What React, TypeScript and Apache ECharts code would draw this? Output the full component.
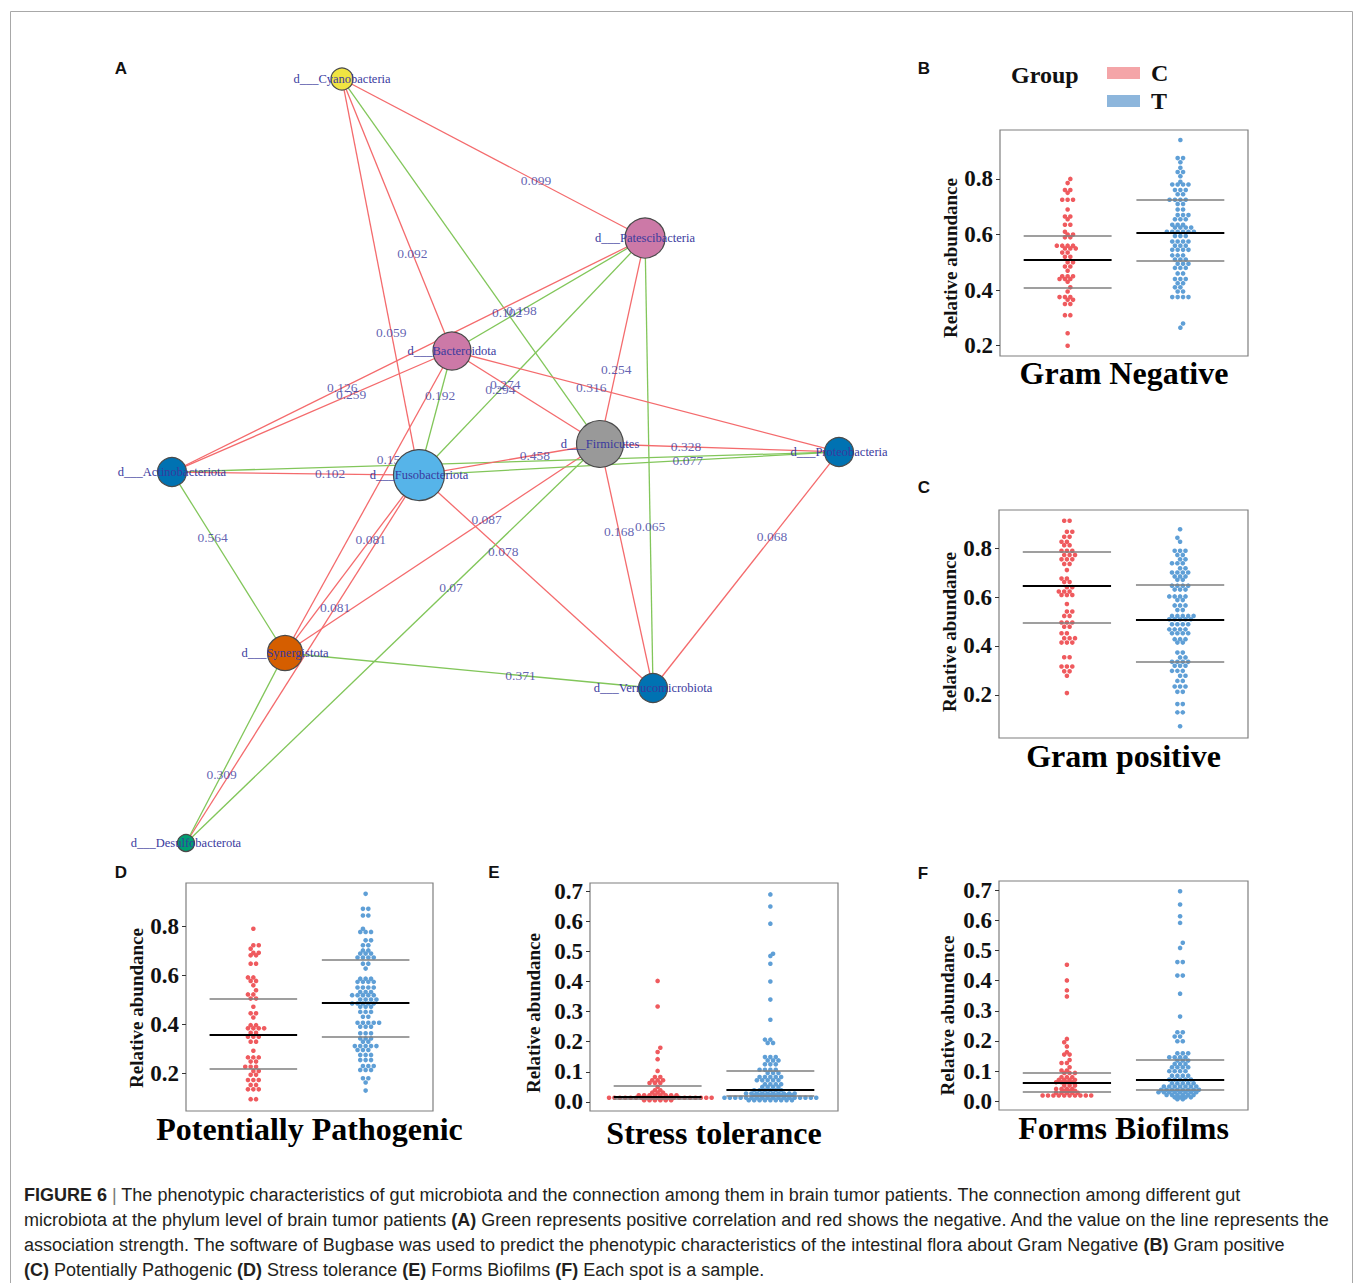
import React, { useEffect, useRef } from "react";
import * as echarts from "echarts";

// ---------------- Panel A : co-occurrence network (layout units 0-100) ----------------
const nodeNames = [
  "Cyanobacteria", "Patescibacteria", "Bacteroidota", "Actinobacteriota", "Fusobacteriota",
  "Firmicutes", "Proteobacteria", "Synergistota", "Verrucomicrobiota", "Desulfobacterota",
];
const nodeLayoutX = [26.0, 69.29, 41.71, 1.71, 37.0, 62.86, 97.0, 17.86, 70.43, 3.71];
const nodeLayoutY = [1.14, 21.27, 35.57, 50.89, 51.27, 47.34, 48.35, 73.8, 78.23, 97.85];
const nodeAbundance = [22, 40, 38, 29, 51, 47, 29, 35, 29, 17];

const edgeFrom = [
  "Cyanobacteria", "Cyanobacteria", "Cyanobacteria", "Cyanobacteria", "Patescibacteria",
  "Patescibacteria", "Actinobacteriota", "Patescibacteria", "Firmicutes", "Patescibacteria",
  "Patescibacteria", "Verrucomicrobiota", "Proteobacteria", "Fusobacteriota", "Synergistota",
  "Synergistota", "Desulfobacterota", "Synergistota", "Verrucomicrobiota", "Desulfobacterota",
  "Synergistota", "Synergistota", "Synergistota", "Actinobacteriota", "Fusobacteriota",
  "Actinobacteriota", "Fusobacteriota", "Proteobacteria", "Verrucomicrobiota",
];
const edgeTo = [
  "Patescibacteria", "Bacteroidota", "Fusobacteriota", "Firmicutes", "Bacteroidota",
  "Actinobacteriota", "Bacteroidota", "Fusobacteriota", "Bacteroidota", "Firmicutes",
  "Verrucomicrobiota", "Firmicutes", "Bacteroidota", "Bacteroidota", "Bacteroidota",
  "Fusobacteriota", "Fusobacteriota", "Firmicutes", "Fusobacteriota", "Firmicutes",
  "Actinobacteriota", "Verrucomicrobiota", "Desulfobacterota", "Proteobacteria", "Proteobacteria",
  "Fusobacteriota", "Firmicutes", "Firmicutes", "Proteobacteria",
];
const edgeWeight = [
  0.099, 0.092, 0.059, 0.102, 0.198, 0.126, 0.259, 0.294, 0.274, 0.254,
  0.065, 0.168, 0.316, 0.192, 0.153, 0.081, 0.081, 0.087, 0.078, 0.07,
  0.564, 0.371, 0.309, 0.148, 0.077, 0.102, 0.458, 0.328, 0.068,
];
const edgeSign = [
  -1, -1, -1, 1, 1, -1, -1, 1, -1, -1,
  1, -1, -1, 1, -1, -1, -1, -1, -1, 1,
  1, 1, 1, 1, 1, -1, -1, -1, -1,
];

// ---------------- Panels B-F : relative abundance per sample ----------------
const groups = ["C", "T"];
const ticksHigh = [0.2, 0.4, 0.6, 0.8];
const ticksLow = [0.0, 0.1, 0.2, 0.3, 0.4, 0.5, 0.6, 0.7];

const gramNegC = [
  0.80, 0.785, 0.76, 0.76, 0.75, 0.725, 0.725, 0.725, 0.69, 0.665, 0.665, 0.655, 0.635, 0.635,
  0.61, 0.60, 0.60, 0.59, 0.59, 0.56, 0.56, 0.56, 0.56, 0.55, 0.55, 0.55, 0.535, 0.535,
  0.52, 0.52, 0.50, 0.50, 0.485, 0.485, 0.47, 0.45, 0.45, 0.45, 0.44, 0.44, 0.44, 0.43,
  0.41, 0.395, 0.375, 0.375, 0.375, 0.365, 0.365, 0.35, 0.35, 0.31, 0.31, 0.245, 0.20,
];
const gramNegT = [
  0.94, 0.875, 0.875, 0.86, 0.84, 0.825, 0.825, 0.81, 0.79, 0.78, 0.78, 0.78, 0.78,
  0.76, 0.76, 0.76, 0.745, 0.745, 0.725, 0.725, 0.725, 0.725, 0.71, 0.71, 0.69, 0.69,
  0.67, 0.67, 0.67, 0.655, 0.655, 0.655, 0.635, 0.635, 0.635, 0.625, 0.625, 0.625, 0.625,
  0.61, 0.61, 0.61, 0.61, 0.61, 0.61, 0.595, 0.595, 0.595, 0.575, 0.575, 0.575, 0.575,
  0.56, 0.56, 0.56, 0.545, 0.545, 0.545, 0.545, 0.525, 0.525, 0.525, 0.51, 0.51, 0.51,
  0.495, 0.495, 0.495, 0.48, 0.48, 0.48, 0.46, 0.46, 0.44, 0.44, 0.44, 0.425, 0.425,
  0.41, 0.41, 0.395, 0.395, 0.375, 0.375, 0.375, 0.375, 0.28, 0.265,
];
const gramNegQuartC = [0.407, 0.509, 0.595];
const gramNegQuartT = [0.506, 0.607, 0.725];

const gramPosC = [
  0.913, 0.913, 0.868, 0.868, 0.847, 0.847, 0.827, 0.827, 0.813, 0.813, 0.79, 0.79, 0.79,
  0.773, 0.773, 0.773, 0.755, 0.755, 0.755, 0.736, 0.736, 0.711, 0.676, 0.676, 0.662, 0.662,
  0.641, 0.641, 0.623, 0.623, 0.623, 0.609, 0.609, 0.609, 0.572, 0.541, 0.541, 0.523, 0.523,
  0.496, 0.496, 0.496, 0.479, 0.479, 0.452, 0.452, 0.432, 0.432, 0.432, 0.414, 0.414, 0.414,
  0.354, 0.354, 0.316, 0.316, 0.316, 0.296, 0.296, 0.278, 0.207,
];
const gramPosT = [
  0.878, 0.843, 0.827, 0.79, 0.79, 0.79, 0.773, 0.773, 0.755, 0.755, 0.739, 0.739, 0.739,
  0.718, 0.718, 0.701, 0.701, 0.701, 0.701, 0.685, 0.685, 0.685, 0.671, 0.671,
  0.647, 0.647, 0.647, 0.647, 0.631, 0.631, 0.631, 0.603, 0.603, 0.603, 0.603, 0.588, 0.588,
  0.566, 0.566, 0.566, 0.547, 0.547, 0.523, 0.523, 0.523, 0.523, 0.523,
  0.509, 0.509, 0.509, 0.509, 0.509, 0.489, 0.489, 0.489, 0.489, 0.468, 0.468, 0.468, 0.468,
  0.452, 0.452, 0.452, 0.452, 0.428, 0.428, 0.428, 0.414, 0.414, 0.373, 0.373, 0.353, 0.353,
  0.335, 0.335, 0.335, 0.335, 0.319, 0.319, 0.319, 0.298, 0.298, 0.298, 0.278, 0.278,
  0.257, 0.257, 0.234, 0.234, 0.234, 0.212, 0.212, 0.162, 0.162, 0.128, 0.128, 0.071,
];
const gramPosQuartC = [0.496, 0.646, 0.786];
const gramPosQuartT = [0.336, 0.509, 0.65];

const pathoC = [
  0.789, 0.722, 0.722, 0.708, 0.691, 0.691, 0.681, 0.681, 0.647, 0.647, 0.591, 0.591,
  0.577, 0.577, 0.559, 0.539, 0.522, 0.522, 0.505, 0.505, 0.472, 0.445, 0.445, 0.428,
  0.397, 0.397, 0.384, 0.384, 0.384, 0.384, 0.366, 0.366, 0.35, 0.35, 0.35, 0.33, 0.33,
  0.293, 0.266, 0.266, 0.266, 0.249, 0.249, 0.228, 0.228, 0.228, 0.211, 0.211, 0.195, 0.195,
  0.174, 0.174, 0.174, 0.154, 0.154, 0.136, 0.136, 0.136, 0.096, 0.096,
];
const pathoT = [
  0.931, 0.87, 0.87, 0.843, 0.843, 0.789, 0.776, 0.776, 0.776, 0.742, 0.742, 0.722, 0.722,
  0.701, 0.701, 0.688, 0.688, 0.688, 0.672, 0.672, 0.672, 0.672, 0.647, 0.647, 0.627,
  0.586, 0.586, 0.586, 0.573, 0.573, 0.573, 0.573, 0.55, 0.55, 0.55, 0.55, 0.532, 0.532, 0.532,
  0.519, 0.519, 0.519, 0.519, 0.519, 0.501, 0.501, 0.501, 0.501, 0.485, 0.485, 0.485, 0.485, 0.485,
  0.472, 0.472, 0.472, 0.451, 0.451, 0.451, 0.431, 0.431, 0.407, 0.407, 0.407, 0.407, 0.407,
  0.391, 0.391, 0.391, 0.364, 0.364, 0.364, 0.343, 0.343, 0.343, 0.33, 0.33,
  0.312, 0.312, 0.312, 0.312, 0.312, 0.296, 0.296, 0.296, 0.276, 0.276, 0.276,
  0.255, 0.255, 0.255, 0.231, 0.231, 0.231, 0.215, 0.215, 0.215, 0.181, 0.181, 0.164, 0.131,
];
const pathoQuartC = [0.218, 0.357, 0.505];
const pathoQuartT = [0.35, 0.489, 0.663];

const stressC = [
  0.402, 0.317, 0.18, 0.166, 0.142, 0.103, 0.083, 0.083, 0.072, 0.072, 0.072,
  0.063, 0.063, 0.063, 0.05, 0.039, 0.039, 0.031, 0.031, 0.031,
  0.022, 0.022, 0.022, 0.022, 0.022, 0.022, 0.022, 0.022,
  0.014, 0.014, 0.014, 0.014, 0.014, 0.014, 0.014, 0.014, 0.014, 0.014,
  0.014, 0.014, 0.014, 0.014, 0.014, 0.014, 0.014, 0.014, 0.014, 0.014,
  0.006, 0.006, 0.006, 0.006, 0.006, 0.006,
];
const stressT = [
  0.689, 0.649, 0.592, 0.492, 0.485, 0.459, 0.40, 0.34, 0.273,
  0.207, 0.207, 0.196, 0.196, 0.149, 0.149, 0.149, 0.138, 0.138, 0.138, 0.125, 0.125, 0.125,
  0.107, 0.107, 0.107, 0.107, 0.096, 0.096, 0.096, 0.083, 0.083, 0.083, 0.083, 0.083,
  0.072, 0.072, 0.072, 0.072, 0.072, 0.059, 0.059, 0.059, 0.059, 0.05, 0.05, 0.05, 0.05,
  0.039, 0.039, 0.039, 0.039, 0.039, 0.039,
  0.028, 0.028, 0.028, 0.028, 0.028, 0.028, 0.028, 0.028, 0.028, 0.028,
  0.022, 0.022, 0.022, 0.022, 0.022, 0.022, 0.022, 0.022,
  0.014, 0.014, 0.014, 0.014, 0.014, 0.014, 0.014, 0.014, 0.014,
  0.014, 0.014, 0.014, 0.014, 0.014, 0.014, 0.014, 0.014, 0.014,
  0.006, 0.006, 0.006, 0.006, 0.006, 0.006, 0.006, 0.006, 0.006,
];
const stressQuartC = [0.011, 0.017, 0.053];
const stressQuartT = [0.019, 0.042, 0.105];

const biofilmC = [
  0.453, 0.401, 0.368, 0.348, 0.207, 0.196, 0.182, 0.163, 0.155, 0.155, 0.137,
  0.127, 0.127, 0.113, 0.102, 0.102, 0.094, 0.094, 0.094, 0.08, 0.08, 0.08,
  0.071, 0.071, 0.071, 0.071, 0.063, 0.063, 0.063, 0.063, 0.052, 0.052, 0.052,
  0.041, 0.041, 0.041, 0.041, 0.035, 0.035, 0.035, 0.028, 0.028, 0.028, 0.028, 0.028,
  0.019, 0.019, 0.019, 0.019, 0.019, 0.019, 0.019, 0.019, 0.019, 0.019,
];
const biofilmT = [
  0.697, 0.653, 0.614, 0.592, 0.526, 0.509, 0.462, 0.462, 0.417, 0.417, 0.357, 0.281,
  0.229, 0.229, 0.215, 0.215, 0.199, 0.199, 0.159, 0.159, 0.159, 0.146, 0.146, 0.146, 0.146,
  0.135, 0.135, 0.135, 0.124, 0.124, 0.124, 0.113, 0.113, 0.113, 0.113, 0.10, 0.10, 0.10, 0.10,
  0.085, 0.085, 0.085, 0.085, 0.072, 0.072, 0.072, 0.072, 0.072, 0.06, 0.06, 0.06, 0.06, 0.06,
  0.049, 0.049, 0.049, 0.049, 0.049, 0.049, 0.049, 0.038, 0.038, 0.038, 0.038, 0.038, 0.038, 0.038, 0.038,
  0.03, 0.03, 0.03, 0.03, 0.03, 0.03, 0.03, 0.03, 0.021, 0.021, 0.021, 0.021, 0.021, 0.021,
  0.013, 0.013, 0.013, 0.013, 0.007, 0.007,
];
const biofilmQuartC = [0.033, 0.063, 0.095];
const biofilmQuartT = [0.038, 0.072, 0.137];

// ---------------- styles ----------------
const nodeFill = ["#f0e442", "#cc79a7", "#cc79a7", "#0072b2", "#56b4e9", "#999999", "#0072b2", "#d55e00", "#0072b2", "#009e73"];
const POS = "#82c65a";
const NEG = "#f46b6d";
const NETTXT = "#3a3a9e";
const RED = "#ef5a5e";
const BLUE = "#5f9fd6";
const SERIF = "'Liberation Serif', 'Times New Roman', serif";
const SANS = "'Liberation Sans', Arial, sans-serif";
const LABEL_FRACTION = 0.64;

const panels = [
  { grid: { left: 1000, top: 130, width: 248, height: 226 }, min: 0.163, max: 0.976, ticks: ticksHigh, title: "Gram Negative", c: gramNegC, t: gramNegT, qc: gramNegQuartC, qt: gramNegQuartT, nameGap: 38, nameShift: 15, titleGap: 1 },
  { grid: { left: 999, top: 510, width: 249, height: 228 }, min: 0.023, max: 0.957, ticks: ticksHigh, title: "Gram positive", c: gramPosC, t: gramPosT, qc: gramPosQuartC, qt: gramPosQuartT, nameGap: 38, nameShift: 8, titleGap: 2 },
  { grid: { left: 186, top: 883, width: 247, height: 228 }, min: 0.048, max: 0.975, ticks: ticksHigh, title: "Potentially Pathogenic", c: pathoC, t: pathoT, qc: pathoQuartC, qt: pathoQuartT, nameGap: 38, nameShift: 11, titleGap: 2 },
  { grid: { left: 590, top: 883, width: 248, height: 228 }, min: -0.03, max: 0.727, ticks: ticksLow, title: "Stress tolerance", c: stressC, t: stressT, qc: stressQuartC, qt: stressQuartT, nameGap: 47, nameShift: 16, titleGap: 6 },
  { grid: { left: 999, top: 881, width: 249, height: 229 }, min: -0.029, max: 0.731, ticks: ticksLow, title: "Forms Biofilms", c: biofilmC, t: biofilmT, qc: biofilmQuartC, qt: biofilmQuartT, nameGap: 42, nameShift: 20, titleGap: 2 },
];

// beeswarm-like row layout: each row of equal values is centred on its group
function rowSwarm(vals: number[], pxPerY: number, d: number): number[] {
  const rows = new Map<number, number[]>();
  vals.forEach((v, i) => {
    const r = rows.get(v);
    if (r) r.push(i);
    else rows.set(v, [i]);
  });
  const keys = Array.from(rows.keys()).sort((a, b) => a - b);
  const out = new Array(vals.length).fill(0);
  let prevY = -1e9;
  let prevPhase = -1;
  let flip = 1;
  for (const k of keys) {
    const ids = rows.get(k)!;
    const n = ids.length;
    const y = k * pxPerY;
    const phase = ((n - 1) / 2) % 1;
    let shift = 0;
    if (y - prevY < d * 0.95 && Math.abs(phase - prevPhase) < 1e-6) {
      shift = (flip * d) / 2;
      flip = -flip;
    }
    ids.forEach((id, j) => {
      out[id] = (j - (n - 1) / 2) * d + shift;
    });
    prevY = y;
    prevPhase = ((((n - 1) / 2 + shift / d) % 1) + 1) % 1;
  }
  return out;
}

function buildOption() {
  const grids: any[] = [{ left: 160, top: 70, width: 700, height: 790, show: false }];
  const xAxes: any[] = [{ gridIndex: 0, type: "value", min: 0, max: 100, show: false }];
  const yAxes: any[] = [{ gridIndex: 0, type: "value", min: 0, max: 100, inverse: true, show: false }];
  const series: any[] = [];

  // ---- network ----
  const idx = (n: string) => nodeNames.indexOf(n);
  series.push({
    type: "lines",
    coordinateSystem: "cartesian2d",
    xAxisIndex: 0,
    yAxisIndex: 0,
    z: 1,
    silent: true,
    clip: false,
    data: edgeFrom.map((f, i) => {
      const a = idx(f);
      const b = idx(edgeTo[i]);
      return {
        coords: [
          [nodeLayoutX[a], nodeLayoutY[a]],
          [nodeLayoutX[b], nodeLayoutY[b]],
        ],
        lineStyle: { color: edgeSign[i] > 0 ? POS : NEG, width: 1.3, opacity: 1 },
      };
    }),
  });
  series.push({
    type: "scatter",
    xAxisIndex: 0,
    yAxisIndex: 0,
    z: 2,
    silent: true,
    clip: false,
    symbolSize: 1,
    itemStyle: { color: "rgba(0,0,0,0)" },
    label: {
      show: true,
      position: "inside",
      color: NETTXT,
      fontFamily: SERIF,
      fontSize: 13.5,
      formatter: (p: any) => String(p.value[2]),
    },
    data: edgeFrom.map((f, i) => {
      const a = idx(f);
      const b = idx(edgeTo[i]);
      return [
        nodeLayoutX[a] + LABEL_FRACTION * (nodeLayoutX[b] - nodeLayoutX[a]),
        nodeLayoutY[a] + LABEL_FRACTION * (nodeLayoutY[b] - nodeLayoutY[a]),
        edgeWeight[i],
      ];
    }),
  });
  series.push({
    type: "scatter",
    xAxisIndex: 0,
    yAxisIndex: 0,
    z: 3,
    silent: true,
    clip: false,
    itemStyle: { borderColor: "#4a4a4a", borderWidth: 1.2, opacity: 1 },
    label: {
      show: true,
      position: "inside",
      color: NETTXT,
      fontFamily: SERIF,
      fontSize: 12.5,
      formatter: (p: any) => "d___" + p.name,
    },
    data: nodeNames.map((n, i) => ({
      name: n,
      value: [nodeLayoutX[i], nodeLayoutY[i]],
      symbolSize: nodeAbundance[i],
      itemStyle: { color: nodeFill[i] },
    })),
  });

  // ---- phenotype panels ----
  panels.forEach((p, k) => {
    const gi = k + 1;
    grids.push({ ...p.grid, show: true, borderColor: "#7f7f7f", borderWidth: 1.2, backgroundColor: "transparent" });
    xAxes.push({
      gridIndex: gi,
      type: "value",
      min: 0.4,
      max: 2.6,
      axisLine: { show: false },
      axisTick: { show: false },
      axisLabel: { show: false },
      splitLine: { show: false },
      name: p.title,
      nameLocation: "middle",
      nameGap: p.titleGap,
      nameTextStyle: { fontFamily: SERIF, fontWeight: "bold", fontSize: 32, color: "#000" },
    });
    yAxes.push({
      gridIndex: gi,
      type: "value",
      min: p.min,
      max: p.max,
      axisLine: { show: false },
      axisTick: { show: true, length: 4, lineStyle: { color: "#333", width: 1 }, customValues: p.ticks },
      axisLabel: {
        show: true,
        customValues: p.ticks,
        formatter: (v: number) => v.toFixed(1),
        fontFamily: SERIF,
        fontWeight: "bold",
        fontSize: 23,
        color: "#111",
        margin: 7,
      },
      splitLine: { show: false },
      name: "Relative abundance",
      nameLocation: "middle",
      nameRotate: 90,
      nameGap: p.nameGap,
      nameTextStyle: {
        fontFamily: SERIF,
        fontWeight: "bold",
        fontSize: 19,
        color: "#111",
        padding: [0, p.nameShift * 2, 0, 0],
      },
    });
    const pxPerY = p.grid.height / (p.max - p.min);
    const pxPerX = p.grid.width / 2.2;
    const D = 5.4;
    [p.c, p.t].forEach((vals, g) => {
      const off = rowSwarm(vals, pxPerY, D);
      series.push({
        type: "scatter",
        name: groups[g],
        xAxisIndex: gi,
        yAxisIndex: gi,
        z: 2,
        silent: true,
        clip: false,
        symbolSize: 4.6,
        itemStyle: { color: g === 0 ? RED : BLUE, opacity: 1 },
        data: vals.map((v, i) => [g + 1 + off[i] / pxPerX, v]),
      });
    });
    const statLines: any[] = [];
    [p.qc, p.qt].forEach((q, g) => {
      q.forEach((v, j) => {
        statLines.push({
          coords: [
            [g + 1 - 0.39, v],
            [g + 1 + 0.39, v],
          ],
          lineStyle: { color: j === 1 ? "#000" : "#7f7f7f", width: j === 1 ? 1.8 : 1.5, opacity: 1 },
        });
      });
    });
    series.push({
      type: "lines",
      coordinateSystem: "cartesian2d",
      xAxisIndex: gi,
      yAxisIndex: gi,
      z: 3,
      silent: true,
      clip: false,
      data: statLines,
    });
  });

  const letter = (t: string, x: number, y: number) => ({
    type: "text",
    x,
    y,
    silent: true,
    style: { text: t, fontFamily: SANS, fontWeight: "bold", fontSize: 17, fill: "#111", align: "center", verticalAlign: "middle" },
  });

  const CAPFONT = "'Liberation Sans', Arial, sans-serif";
  const CAPSIZE = 18;
  const capStyle = {
    fontFamily: CAPFONT,
    fontSize: CAPSIZE,
    fill: "#231f20",
    align: "left",
    verticalAlign: "middle",
  };
  const capRich = {
    b: { fontFamily: CAPFONT, fontSize: CAPSIZE, fontWeight: "bold", fill: "#231f20" },
    s: { fontFamily: CAPFONT, fontSize: CAPSIZE, fill: "#777" },
  };
  const captionLines = [
    "{b|FIGURE 6} {s||} The phenotypic characteristics of gut microbiota and the connection among them in brain tumor patients. The connection among different gut",
    "microbiota at the phylum level of brain tumor patients {b|(A)} Green represents positive correlation and red shows the negative. And the value on the line represents the",
    "association strength. The software of Bugbase was used to predict the phenotypic characteristics of the intestinal flora about Gram Negative {b|(B)} Gram positive",
    "{b|(C)} Potentially Pathogenic {b|(D)} Stress tolerance {b|(E)} Forms Biofilms {b|(F)} Each spot is a sample.",
  ];

  const graphics: any[] = [
    {
      type: "rect",
      silent: true,
      shape: { x: 10.5, y: 11.5, width: 1342, height: 1300 },
      style: { fill: "none", stroke: "#a8a8a8", lineWidth: 1 },
    },
    letter("A", 121, 68),
    letter("B", 924, 68),
    letter("C", 924, 487),
    letter("D", 121, 872),
    letter("E", 494, 872),
    letter("F", 923, 873),
    {
      type: "text",
      x: 1011,
      y: 75,
      silent: true,
      style: { text: "Group", fontFamily: SERIF, fontWeight: "bold", fontSize: 24, fill: "#111", align: "left", verticalAlign: "middle" },
    },
    ...captionLines.map((t, i) => ({
      type: "text",
      x: 24,
      y: 1195 + i * 25,
      silent: true,
      style: { ...capStyle, text: t, rich: capRich },
    })),
  ];

  return {
    animation: false,
    backgroundColor: "#ffffff",
    textStyle: { fontFamily: SERIF },
    legend: {
      orient: "vertical",
      left: 1107,
      top: 61,
      padding: 0,
      itemWidth: 33,
      itemHeight: 12,
      itemGap: 4,
      icon: "rect",
      selectedMode: false,
      data: [
        { name: "C", itemStyle: { color: "#f4a5a8" } },
        { name: "T", itemStyle: { color: "#8db6dc" } },
      ],
      textStyle: { fontFamily: SERIF, fontWeight: "bold", fontSize: 24, color: "#111", padding: [0, 0, 0, 6] },
    },
    grid: grids,
    xAxis: xAxes,
    yAxis: yAxes,
    series,
    graphic: graphics,
  };
}

export default function App() {
  const ref = useRef<HTMLDivElement>(null);
  useEffect(() => {
    if (!ref.current) return;
    const chart = echarts.init(ref.current, null, { renderer: "svg" });
    chart.setOption(buildOption() as any);
    return () => chart.dispose();
  }, []);
  return (
    <div
      ref={ref}
      style={{ position: "absolute", left: 0, top: 0, width: 1355, height: 1283, background: "#fff" }}
    />
  );
}
